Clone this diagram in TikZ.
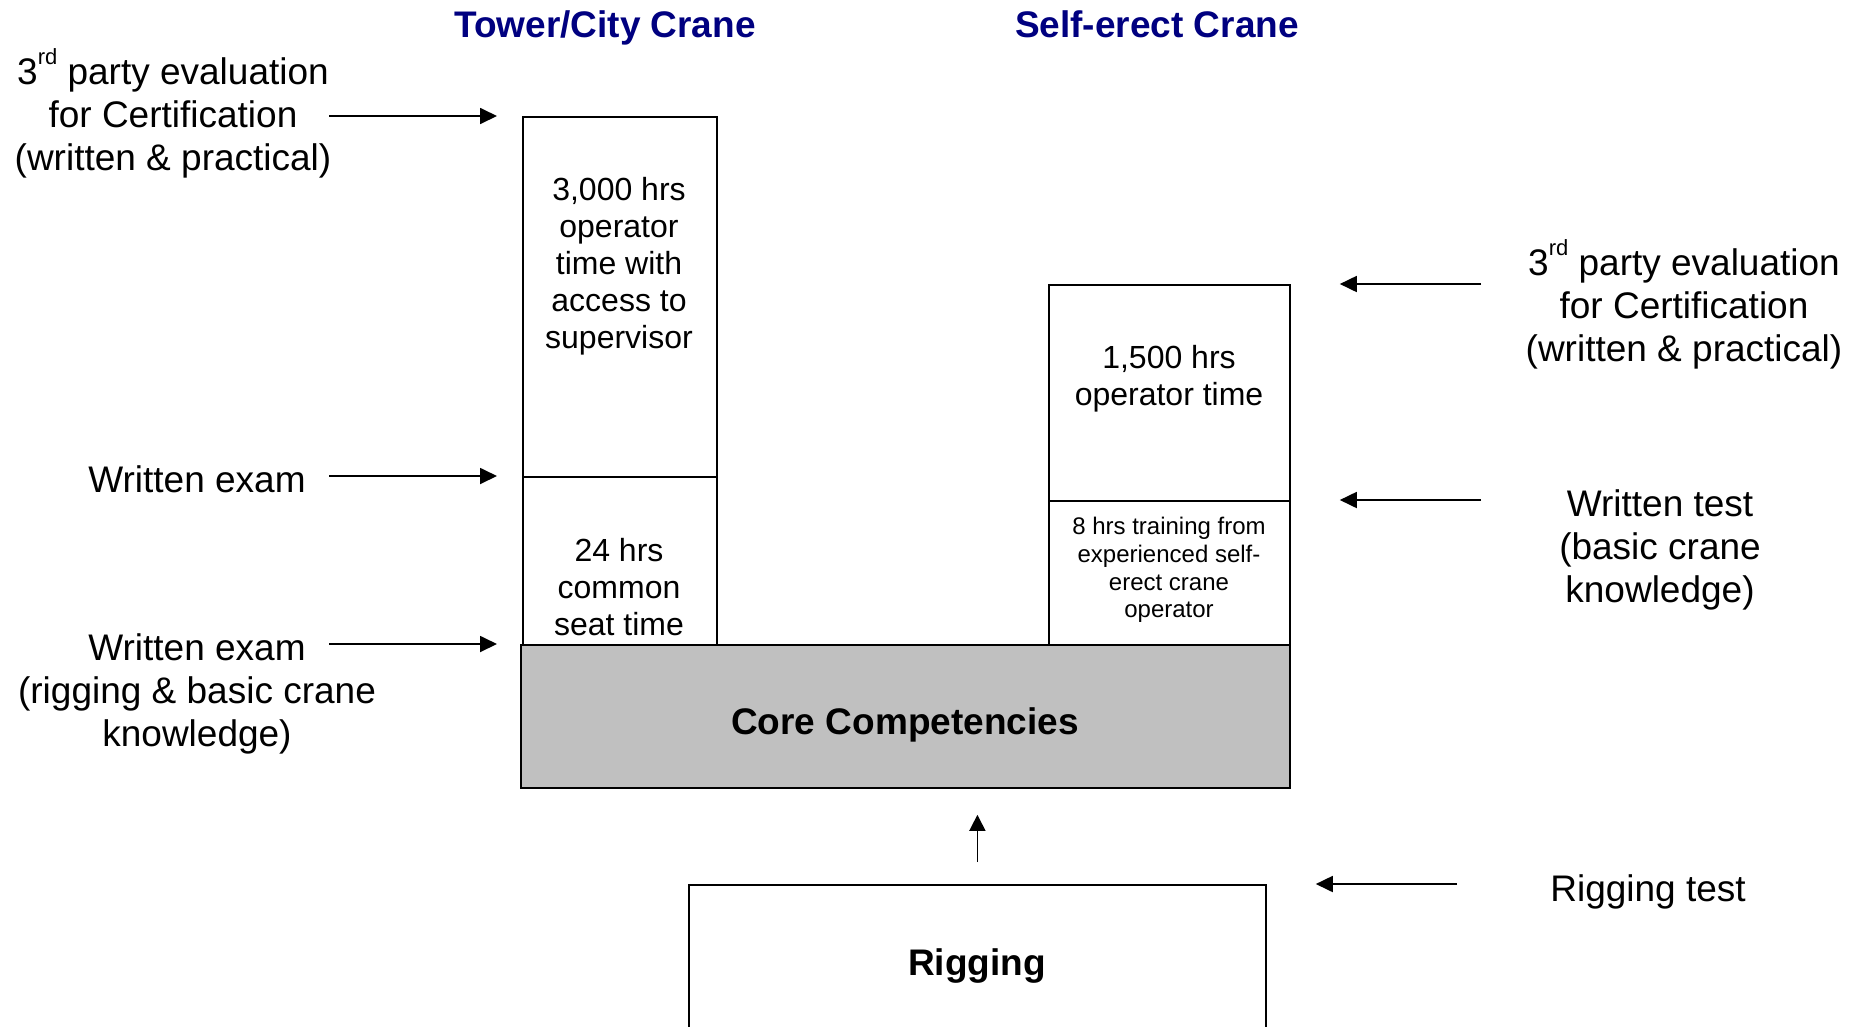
\documentclass[tikz,border=0pt]{standalone}
\usepackage{fontspec}
\setmainfont{Liberation Sans}
\usetikzlibrary{arrows.meta}
\definecolor{navy}{RGB}{0,0,128}
\definecolor{coregray}{RGB}{192,192,192}
\newcommand{\myrd}{\smash{\raisebox{0.55em}{\fontsize{22}{22}\selectfont rd}}}
\begin{document}
\begin{tikzpicture}[x=1pt,y=-1pt,
  box/.style={draw, line width=1.8pt, inner sep=0pt, anchor=north west},
  lbl/.style={font=\fontsize{37}{43}\selectfont, align=center, inner sep=0pt},
  boxtxt/.style={font=\fontsize{32}{37}\selectfont, align=center, inner sep=0pt},
  smalltxt/.style={font=\fontsize{24}{27.8}\selectfont, align=center, inner sep=0pt},
  boldtxt/.style={font=\fontsize{37}{43}\selectfont\bfseries, align=center, inner sep=0pt},
  title/.style={font=\fontsize{37}{43}\selectfont\bfseries, text=navy, inner sep=0pt, anchor=base},
  arr/.style={line width=1.8pt, -{Triangle[length=17pt,width=16pt]}},
  uparr/.style={line width=1.6pt, -{Triangle[length=16pt,width=16pt]}}]
\useasboundingbox (0,0) rectangle (1870,1026);
\fill[white] (0,0) rectangle (1870,1026);
\clip (0,0) rectangle (1870,1026);

% titles
\node[title] (t1) at (605,37) {Tower/City Crane};
\node[title] (t2) at (1157,37) {Self-erect Crane};

% boxes
\node[box, minimum width=194pt, minimum height=360pt] (tup) at (522,116) {};
\node[box, minimum width=194pt, minimum height=168pt] (tlow) at (522,476) {};
\node[box, minimum width=241pt, minimum height=216pt] (sup) at (1048,284) {};
\node[box, minimum width=241pt, minimum height=144pt] (slow) at (1048,500) {};
\node[box, fill=coregray, minimum width=769pt, minimum height=143pt] (core) at (520,644) {};
\node[box, minimum width=577pt, minimum height=160pt] (rig) at (688,884) {};

% box texts
\node[boxtxt] (tupt) at (619,266) {3,000 hrs\\operator\\time with\\access to\\supervisor};
\node[boxtxt] (tlowt) at (619,587) {24 hrs\\common\\seat time};
\node[boxtxt] (supt) at (1169,379) {1,500 hrs\\operator time};
\node[smalltxt] (slowt) at (1169,570) {8 hrs training from\\experienced self-\\erect crane\\operator};
\node[boldtxt] (coret) at (905,725) {Core Competencies};
\node[boldtxt] (rigt) at (977,966) {Rigging};

% left labels
\node[lbl] (l1) at (173,118) {3\myrd{} party evaluation\\for Certification\\(written \& practical)};
\node[lbl] (l2) at (197,479) {Written exam};
\node[lbl] (l3) at (197,694) {Written exam\\(rigging \& basic crane\\knowledge)};

% right labels
\node[lbl] (r1) at (1684,309) {3\myrd{} party evaluation\\for Certification\\(written \& practical)};
\node[lbl] (r2) at (1660,550) {Written test\\(basic crane\\knowledge)};
\node[lbl] (r3) at (1648,892) {Rigging test};

% arrow start coordinates
\coordinate (a1) at (329,116);
\coordinate (a2) at (329,476);
\coordinate (a3) at (329,644);
\coordinate (b1) at (1481,284);
\coordinate (b2) at (1481,500);
\coordinate (b3) at (1457,884);
\coordinate (upstart) at ([yshift=22pt]rig.north);
\coordinate (upend) at ([yshift=-26pt]core.south -| rig.north);

\draw[arr] (a1) -- ([xshift=-25pt]tup.north west);
\draw[arr] (a2) -- ([xshift=-25pt]tlow.north west);
\draw[arr] (a3) -- ([xshift=-23pt]core.north west);
\draw[arr] (b1) -- ([xshift=49pt]sup.north east);
\draw[arr] (b2) -- ([xshift=49pt]slow.north east);
\draw[arr] (b3) -- ([xshift=49pt]rig.north east);
\draw[uparr] (upstart) -- (upend);
\end{tikzpicture}
\end{document}
